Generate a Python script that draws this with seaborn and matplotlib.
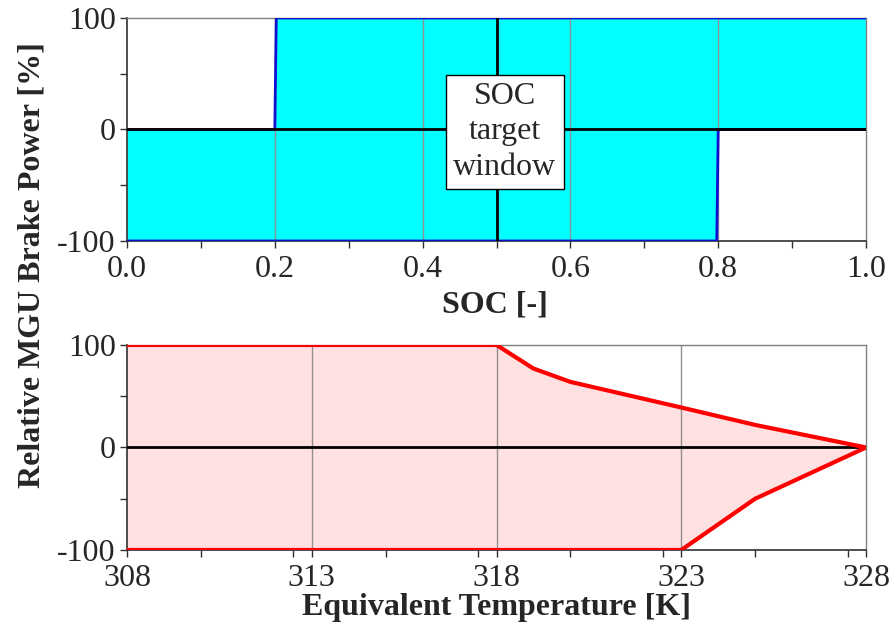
import matplotlib
matplotlib.use("Agg")
import matplotlib.pyplot as plt
import seaborn as sns
import pandas as pd
from matplotlib.ticker import MultipleLocator

# --- Data ---
soc_pts = [0.0, 0.2, 0.202, 0.798, 0.8, 1.0]
soc_upper = [0, 0, 100, 100, 100, 100]
soc_lower = [-100, -100, -100, -100, 0, 0]

temp_pts = [308, 318, 319, 320, 323, 325, 328]
temp_upper = [100, 100, 77, 64, 39, 22, 0]
temp_lower = [-100, -100, -100, -100, -100, -50, 0]

soc_ticks = [0.0, 0.2, 0.4, 0.6, 0.8, 1.0]
soc_ticklabels = ["0.0", "0.2", "0.4", "0.6", "0.8", "1.0"]
temp_ticks = [308, 313, 318, 323, 328]
power_ticks = [-100, 0, 100]
power_ticklabels = ["-100", "0", "100"]

soc_df = pd.DataFrame({"soc": soc_pts, "upper": soc_upper, "lower": soc_lower})
temp_df = pd.DataFrame({"temp": temp_pts, "upper": temp_upper, "lower": temp_lower})

# --- Style ---
sns.set_theme(style="ticks")
plt.rcParams["font.family"] = ["Liberation Serif", "DejaVu Serif"]
plt.rcParams["axes.unicode_minus"] = False

fig = plt.figure(figsize=(8.93, 6.31), dpi=100)
ax1 = fig.add_axes([0.1422, 0.6181, 0.8276, 0.3534])
ax2 = fig.add_axes([0.1422, 0.1284, 0.8276, 0.3249])

fs = 23


def style_axis(ax):
    for side in ["top", "right"]:
        ax.spines[side].set_color("#808080")
        ax.spines[side].set_linewidth(1.0)
    for side in ["left", "bottom"]:
        ax.spines[side].set_color("#303030")
        ax.spines[side].set_linewidth(1.2)
    ax.tick_params(which="major", direction="out", length=5, width=1.0,
                   labelsize=fs, color="#303030", pad=3)
    ax.tick_params(axis="x", which="major", pad=5)
    ax.tick_params(which="minor", direction="out", length=5, width=1.0,
                   color="#303030")
    ax.set_yticks(power_ticks)
    ax.set_yticklabels(power_ticklabels)
    ax.yaxis.set_minor_locator(MultipleLocator(50))
    ax.set_ylim(-100, 100)
    ax.grid(False)
    ax.set_ylabel("")


# --- Top panel: SOC ---
ax1.fill_between(soc_df["soc"], soc_df["lower"], soc_df["upper"],
                 color="#00FFFF", linewidth=0, zorder=1)
for x in soc_ticks[1:-1]:
    ax1.axvline(x, color="#909090", linewidth=1.0, zorder=2)
sns.lineplot(data=soc_df, x="soc", y="upper", ax=ax1, color="#1010D0",
             linewidth=2.0, zorder=3)
sns.lineplot(data=soc_df, x="soc", y="lower", ax=ax1, color="#1010D0",
             linewidth=2.0, zorder=3)
ax1.axhline(0, color="black", linewidth=2.0, zorder=4)
ax1.axvline(0.5, color="black", linewidth=2.0, zorder=4)
ax1.text(0.5115, -2, "SOC\ntarget\nwindow", ha="center", va="center",
         fontsize=fs, linespacing=1.3, zorder=5,
         bbox=dict(boxstyle="square,pad=0.22", facecolor="white",
                   edgecolor="black", linewidth=1.0))
ax1.set_xlim(0, 1)
ax1.set_xticks(soc_ticks)
ax1.set_xticklabels(soc_ticklabels)
ax1.xaxis.set_minor_locator(MultipleLocator(0.1))
style_axis(ax1)
ax1.set_xlabel("")

# --- Bottom panel: temperature ---
ax2.fill_between(temp_df["temp"], temp_df["lower"], temp_df["upper"],
                 color="#FFE1E1", linewidth=0, zorder=1)
for x in temp_ticks[1:-1]:
    ax2.axvline(x, color="#909090", linewidth=1.0, zorder=2)
ax2.axhline(0, color="black", linewidth=2.0, zorder=3)
sns.lineplot(data=temp_df, x="temp", y="upper", ax=ax2, color="#FF0000",
             linewidth=3.0, zorder=4)
sns.lineplot(data=temp_df, x="temp", y="lower", ax=ax2, color="#FF0000",
             linewidth=3.0, zorder=4)
ax2.set_xlim(308, 328)
ax2.set_xticks(temp_ticks)
ax2.xaxis.set_minor_locator(MultipleLocator(2.5))
style_axis(ax2)
ax2.set_xlabel("")

# --- Labels ---
fig.text(0.554, 0.516, "SOC [-]", ha="center", va="center",
         fontsize=fs, fontweight="bold")
fig.text(0.556, 0.038, "Equivalent Temperature [K]", ha="center", va="center",
         fontsize=fs, fontweight="bold")
fig.text(0.036, 0.58, "Relative MGU Brake Power [%]", ha="center", va="center",
         rotation=90, fontsize=fs, fontweight="bold")

fig.savefig("out.png", dpi=100)
